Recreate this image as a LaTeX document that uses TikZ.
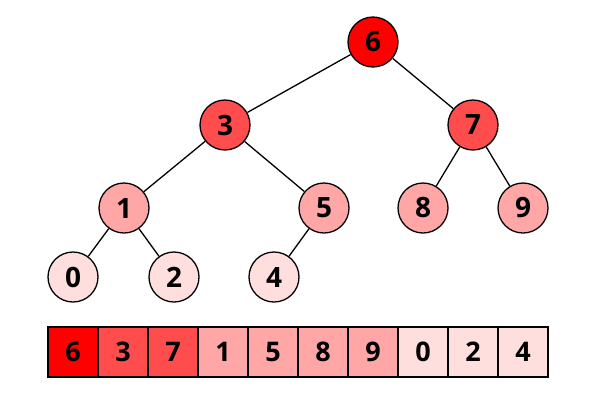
\documentclass[tikz,border=0pt]{standalone}
\usepackage{fontspec}
\setmainfont{Open Sans}
\begin{document}
\begin{tikzpicture}[x=1pt,y=-1pt,
	key/.style={circle,draw,line width=1.3pt,minimum size=50pt,inner sep=0pt,
		font=\fontsize{28}{28}\selectfont\bfseries},
	cell/.style={rectangle,draw,line width=1.3pt,minimum size=50pt,inner sep=0pt,
		font=\fontsize{27}{27}\selectfont\bfseries}]
\useasboundingbox (0,0) rectangle (600,400);
\colorlet{Lvl0}{red}
\colorlet{Lvl1}{red!70}
\colorlet{Lvl2}{red!35}
\colorlet{Lvl3}{red!13}
%% The heap as a tree
\node[key,fill=Lvl0] (k6) at (373,42) {6};
\node[key,fill=Lvl1] (k3) at (225,125) {3};
\node[key,fill=Lvl1] (k7) at (473,125) {7};
\node[key,fill=Lvl2] (k1) at (124,208) {1};
\node[key,fill=Lvl2] (k5) at (324,208) {5};
\node[key,fill=Lvl2] (k8) at (423,208) {8};
\node[key,fill=Lvl2] (k9) at (523,208) {9};
\node[key,fill=Lvl3] (k0) at (73,277) {0};
\node[key,fill=Lvl3] (k2) at (174,277) {2};
\node[key,fill=Lvl3] (k4) at (274,277) {4};
\draw[line width=1.3pt] (k6) -- (k3) (k6) -- (k7)
	(k3) -- (k1) (k3) -- (k5)
	(k7) -- (k8) (k7) -- (k9)
	(k1) -- (k0) (k1) -- (k2)
	(k5) -- (k4);
%% The heap as an array
\foreach \v/\c [count=\i from 0] in {6/Lvl0,3/Lvl1,7/Lvl1,1/Lvl2,5/Lvl2,8/Lvl2,9/Lvl2,0/Lvl3,2/Lvl3,4/Lvl3}
	\node[cell,fill=\c] (a\i) at (73+50*\i,352) {\v};
\end{tikzpicture}
\end{document}
